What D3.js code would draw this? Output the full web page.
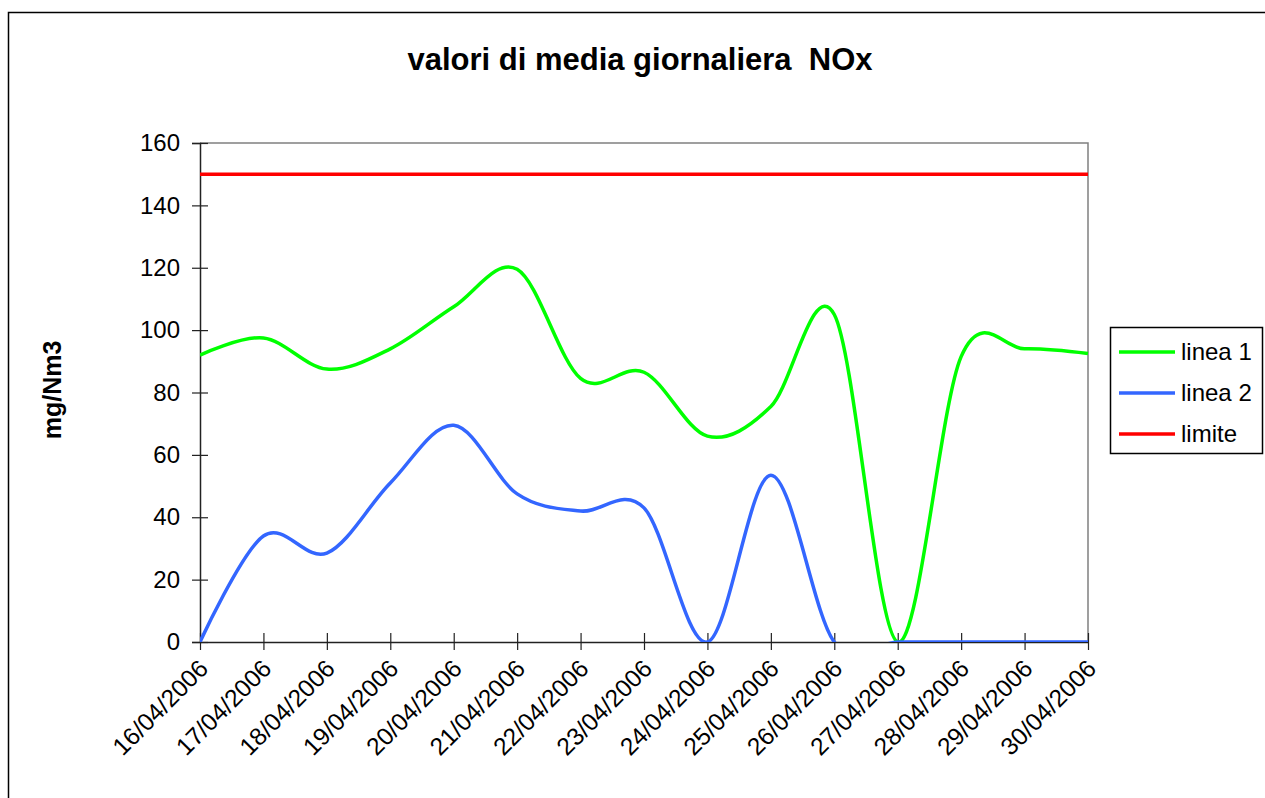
<!DOCTYPE html>
<html>
<head>
<meta charset="utf-8">
<script src="https://cdn.jsdelivr.net/npm/d3@7"></script>
<style>
  html, body { margin: 0; padding: 0; background: #fff; }
  svg { display: block; font-family: "Liberation Sans", Arial, sans-serif; }
</style>
</head>
<body>
<svg id="chart" width="1265" height="798"></svg>
<script>
// ---- data ----
const dates = ["16/04/2006","17/04/2006","18/04/2006","19/04/2006","20/04/2006",
               "21/04/2006","22/04/2006","23/04/2006","24/04/2006","25/04/2006",
               "26/04/2006","27/04/2006","28/04/2006","29/04/2006","30/04/2006"];
const linea1 = [92, 97.5, 87.5, 94, 107.5, 119.5, 84.5, 86.5, 66, 75.5, 105, 0, 91.5, 94, 92.5];
const linea2 = [0, 34, 28.5, 51, 69.5, 47.5, 42, 43, 0, 53.5, 0, 0, 0, 0, 0];
const limite = [150,150,150,150,150,150,150,150,150,150,150,150,150,150,150];
const yTicks = [0, 20, 40, 60, 80, 100, 120, 140, 160];
const seriesNames = ["linea 1", "linea 2", "limite"];
const seriesColors = ["#00FF00", "#3366FF", "#FF0000"];

// ---- layout ----
const W = 1265, H = 798;
const plot = { left: 200, top: 143, right: 1088, bottom: 642 };

const svg = d3.select("#chart");
svg.append("rect").attr("x",0).attr("y",0).attr("width",W).attr("height",H).attr("fill","#fff");

// outer chart border (extends beyond the view on right/bottom)
svg.append("rect")
  .attr("x", 8.5).attr("y", 12.5).attr("width", W + 200).attr("height", H + 200)
  .attr("fill", "none").attr("stroke", "#000").attr("stroke-width", 1.5);

const x = d3.scalePoint().domain(dates).range([plot.left, plot.right]);
const y = d3.scaleLinear().domain([0, 160]).range([plot.bottom, plot.top]);

// plot frame (grey top/right)
svg.append("path")
  .attr("d", `M${plot.left},${plot.top}H${plot.right}V${plot.bottom}`)
  .attr("fill", "none").attr("stroke", "#808080").attr("stroke-width", 1.5);

// clip
svg.append("clipPath").attr("id","clip").append("rect")
  .attr("x", plot.left).attr("y", plot.top - 2)
  .attr("width", plot.right - plot.left + 2).attr("height", plot.bottom - plot.top + 2);

// title
svg.append("text")
  .attr("x", 640).attr("y", 70)
  .attr("text-anchor", "middle")
  .attr("font-size", 31).attr("font-weight", "bold")
  .attr("xml:space", "preserve")
  .style("white-space", "pre")
  .text("valori di media giornaliera  NOx");

// y axis label
svg.append("text")
  .attr("transform", "translate(61,390) rotate(-90)")
  .attr("text-anchor", "middle")
  .attr("font-size", 25).attr("font-weight", "bold")
  .text("mg/Nm3");

// lines
const line = d3.line()
  .x((d, i) => x(dates[i]))
  .y(d => y(d))
  .curve(d3.curveCardinal.tension(0));

// y axis
const yAxis = svg.append("g")
  .attr("transform", `translate(${plot.left},0)`)
  .call(d3.axisLeft(y).tickValues(yTicks).tickSize(8).tickPadding(12).tickFormat(d3.format("d")));
yAxis.select(".domain").attr("stroke", "#222").attr("stroke-width", 1.5);
yAxis.selectAll(".tick line").attr("x1", 8).attr("stroke", "#222").attr("stroke-width", 1.2);
yAxis.selectAll(".tick text").attr("font-size", 24).attr("fill", "#000")
  .attr("font-family", "Liberation Sans, Arial, sans-serif");

// x axis
const xAxis = svg.append("g")
  .attr("transform", `translate(0,${plot.bottom})`)
  .call(d3.axisBottom(x).tickSize(8).tickSizeOuter(0));
xAxis.select(".domain").attr("stroke", "#222").attr("stroke-width", 1.5);
xAxis.selectAll(".tick line").attr("y1", -9).attr("stroke", "#222").attr("stroke-width", 1.2);
xAxis.selectAll(".tick text")
  .attr("font-size", 24.5).attr("fill", "#000")
  .attr("font-family", "Liberation Sans, Arial, sans-serif")
  .attr("text-anchor", "end")
  .attr("x", 0).attr("y", 0).attr("dy", "0.35em")
  .attr("transform", "translate(3,22) rotate(-45)");

// series (drawn over the axes)
const seriesData = [linea1, linea2, limite];
const gLines = svg.append("g").attr("clip-path", "url(#clip)");
seriesData.forEach((s, k) => {
  gLines.append("path")
    .datum(s)
    .attr("d", line)
    .attr("fill", "none")
    .attr("stroke", seriesColors[k])
    .attr("stroke-width", 3.5)
    .attr("stroke-linejoin", "round");
});

// legend
const legend = svg.append("g");
legend.append("rect")
  .attr("x", 1110.5).attr("y", 327.5).attr("width", 152).attr("height", 126)
  .attr("fill", "#fff").attr("stroke", "#000").attr("stroke-width", 1.5);
seriesNames.forEach((n, k) => {
  const yy = 352 + k * 41;
  legend.append("line")
    .attr("x1", 1119).attr("x2", 1175).attr("y1", yy).attr("y2", yy)
    .attr("stroke", seriesColors[k]).attr("stroke-width", 3.5);
  legend.append("text")
    .attr("x", 1181).attr("y", yy).attr("dy", "0.35em")
    .attr("font-size", 24).text(n);
});
</script>
</body>
</html>
